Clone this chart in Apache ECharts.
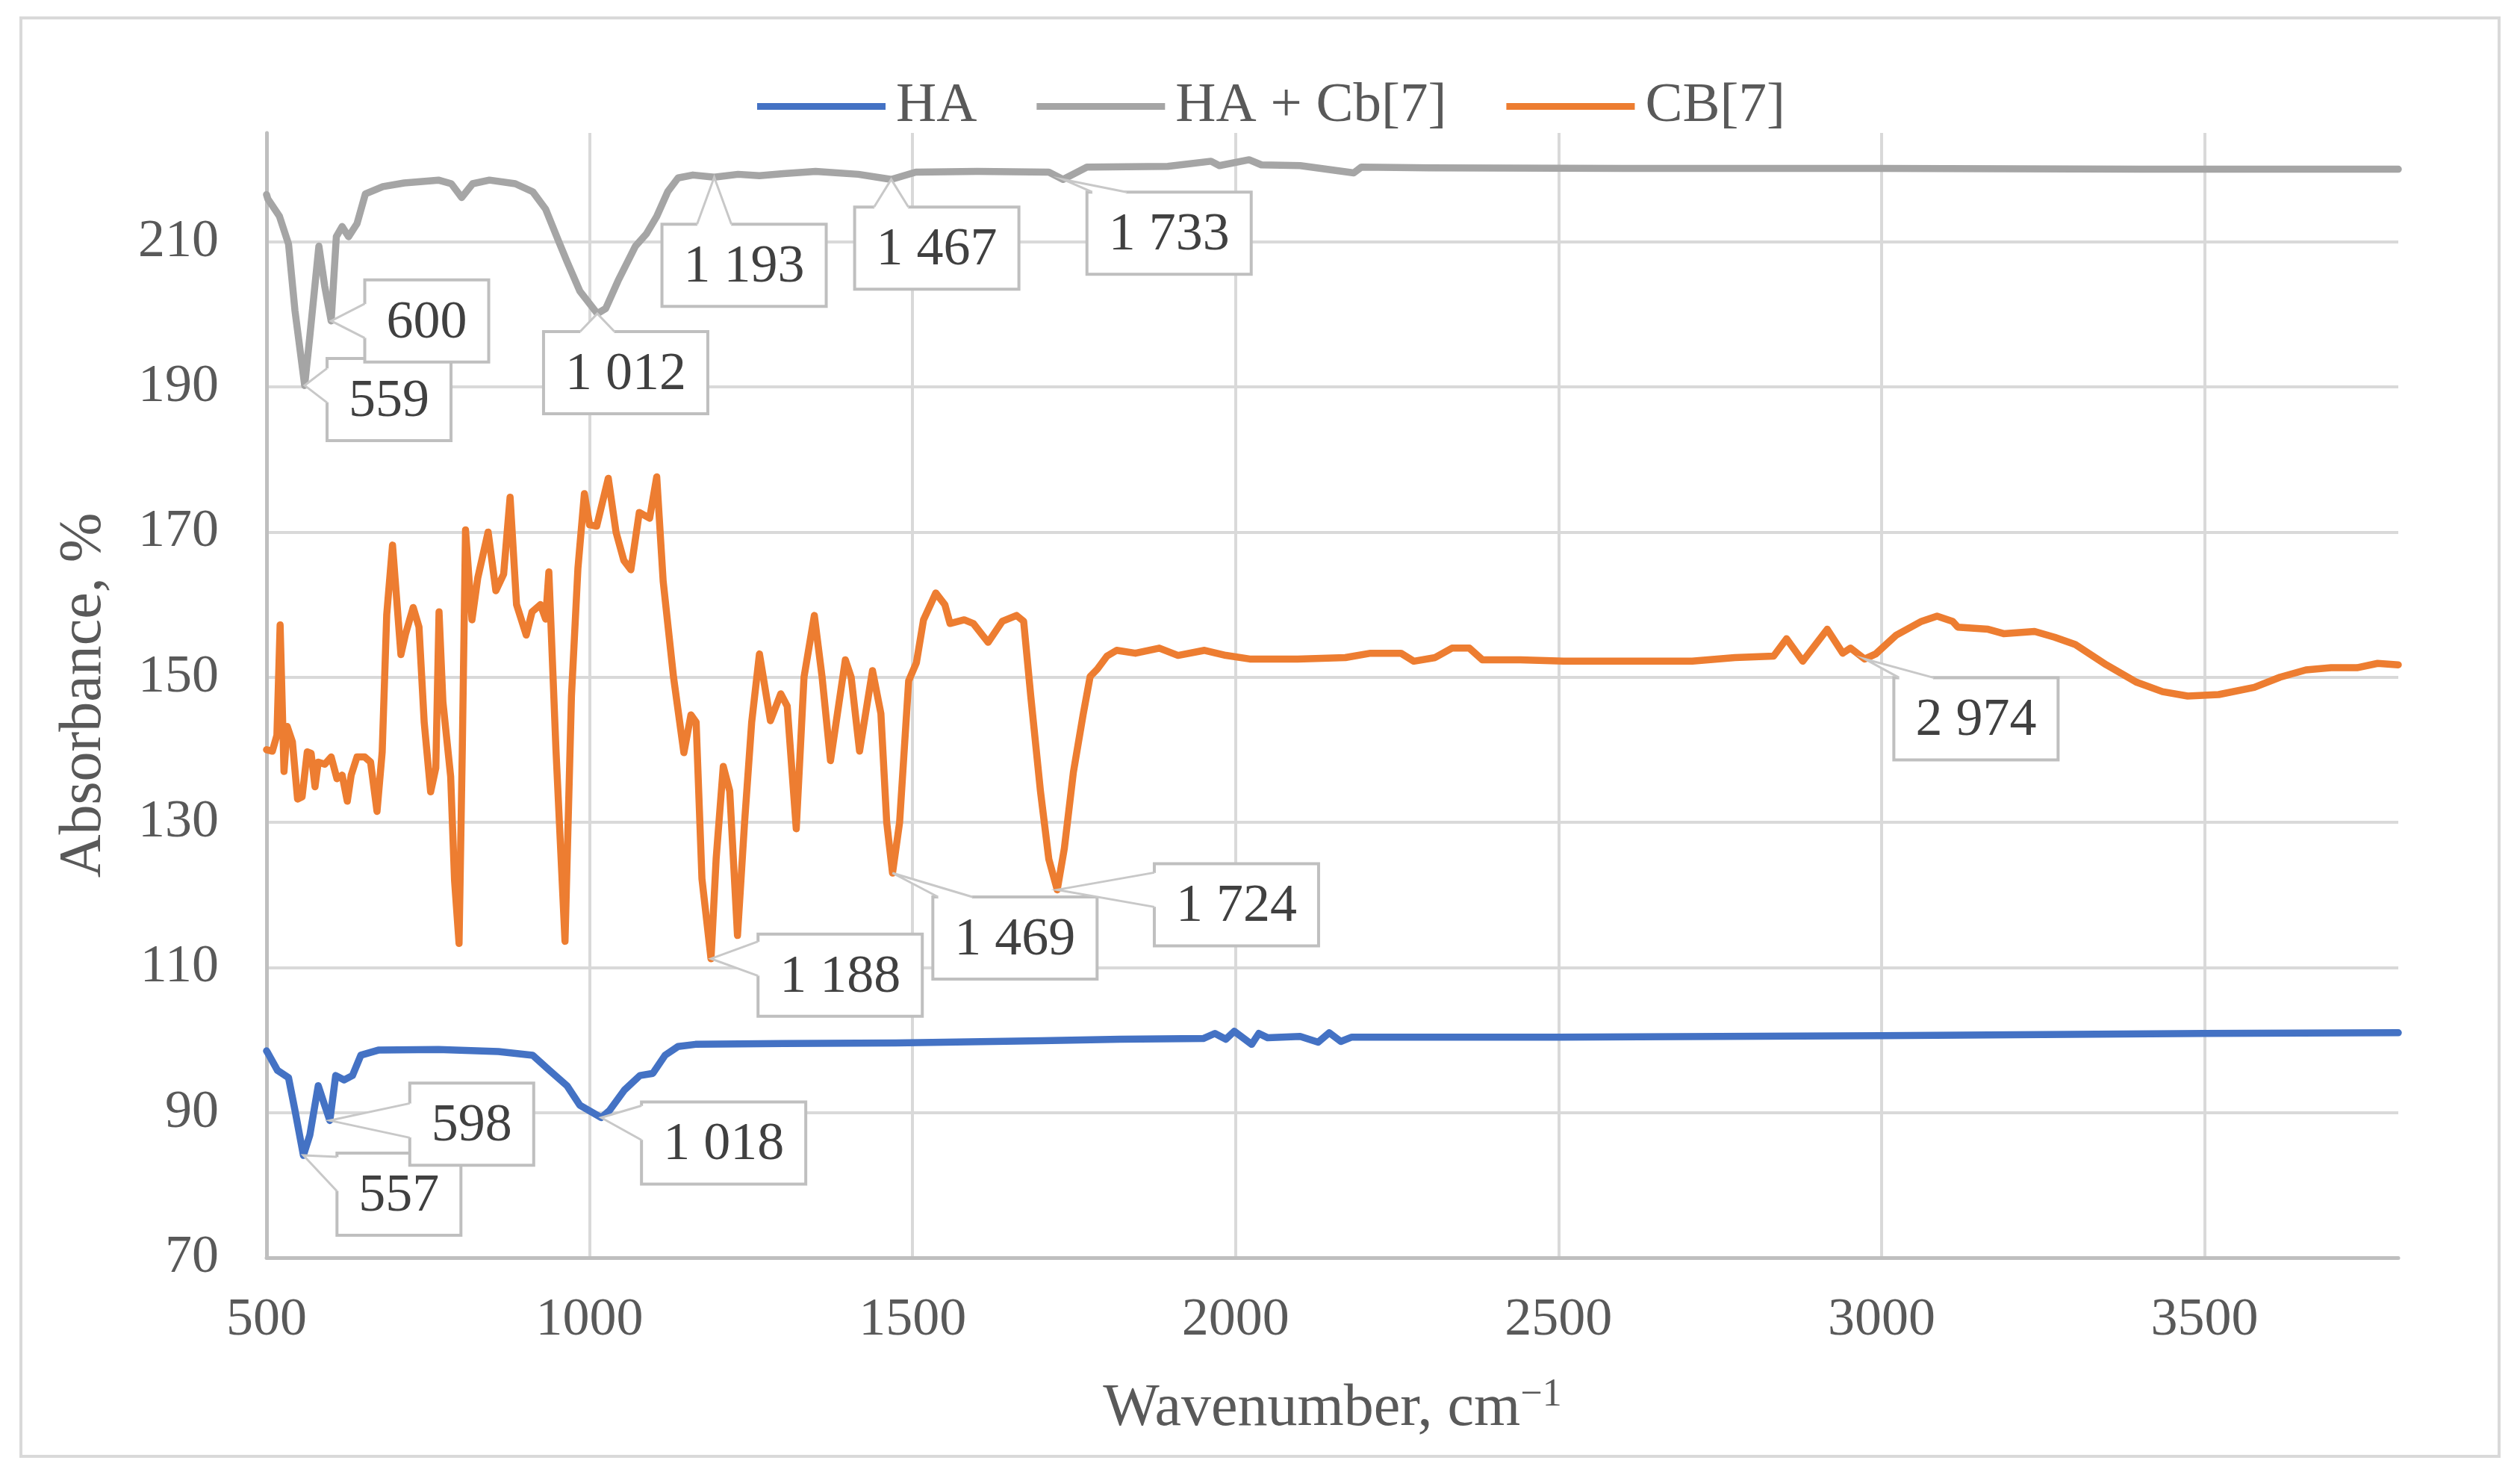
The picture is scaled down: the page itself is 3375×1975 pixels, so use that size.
<!DOCTYPE html>
<html>
<head>
<meta charset="utf-8">
<script src="https://cdn.jsdelivr.net/npm/echarts/dist/echarts.min.js"></script>
<style>
  html, body { margin: 0; padding: 0; background: #ffffff; }
  #chart { width: 3375px; height: 1975px; }
</style>
</head>
<body>
<div id="chart"></div>
<script>
// ---------------- DATA ----------------
const seriesNames = ['HA', 'HA + Cb[7]', 'CB[7]'];

const xTicks = [500, 1000, 1500, 2000, 2500, 3000, 3500];
const yTicks = [70, 90, 110, 130, 150, 170, 190, 210];

// [wavenumber, absorbance]
const haData = [
  [500, 98.5], [502, 98.2], [517, 95.8], [534, 94.8], [544, 90.3], [557, 84.1], [567, 86.9],
  [580, 93.7], [590, 91.0], [598, 88.9], [607, 95.1], [620, 94.5], [633, 95.1], [646, 97.9],
  [673, 98.6], [766, 98.7], [859, 98.4], [912, 97.9], [938, 95.8], [965, 93.7], [985, 91.0],
  [1018, 89.3], [1031, 90.3], [1054, 93.1], [1078, 95.1], [1098, 95.4], [1117, 97.9], [1137, 99.1],
  [1164, 99.4], [1300, 99.5], [1474, 99.6], [1700, 99.9], [1821, 100.1], [1950, 100.2], [1968, 100.9],
  [1985, 100.1], [1998, 101.2], [2010, 100.4], [2025, 99.4], [2036, 100.9], [2050, 100.3], [2100, 100.5],
  [2128, 99.7], [2145, 101.0], [2163, 99.8], [2180, 100.4], [2500, 100.4], [3000, 100.6], [3500, 100.9],
  [3800, 101.0]
];

const haCbData = [
  [500, 216.5], [502, 215.9], [520, 213.5], [534, 209.7], [544, 200.5], [559, 190.2], [567, 197.0],
  [581, 209.4], [590, 203.9], [600, 199.1], [608, 210.7], [617, 212.1], [627, 210.7], [640, 212.5],
  [653, 216.6], [680, 217.6], [713, 218.1], [766, 218.5], [786, 218.0], [802, 216.1], [819, 218.0],
  [845, 218.5], [885, 218.0], [912, 216.9], [932, 214.5], [952, 210.1], [965, 207.3], [985, 203.2],
  [1012, 200.1], [1025, 200.8], [1044, 204.6], [1071, 209.4], [1088, 211.1], [1104, 213.5], [1121, 216.9],
  [1137, 218.8], [1160, 219.2], [1193, 218.9], [1230, 219.3], [1263, 219.1], [1300, 219.4], [1350, 219.7],
  [1416, 219.3], [1467, 218.6], [1505, 219.6], [1600, 219.7], [1711, 219.6], [1733, 218.6], [1770, 220.3],
  [1895, 220.4], [1962, 221.1], [1975, 220.5], [2021, 221.3], [2040, 220.6], [2100, 220.5], [2183, 219.5],
  [2195, 220.3], [2300, 220.2], [2600, 220.1], [3000, 220.1], [3400, 220.0], [3800, 220.0]
];

const cbData = [
  [500, 140.0], [509, 139.8], [516, 142.0], [521, 157.2], [527, 137.0], [532, 143.2], [540, 141.1],
  [548, 133.2], [555, 133.5], [563, 139.7], [569, 139.5], [575, 134.9], [580, 138.3], [590, 138.0],
  [600, 139.0], [609, 136.0], [617, 136.5], [625, 132.9], [631, 136.5], [640, 139.0], [652, 139.0],
  [661, 138.3], [671, 131.5], [679, 139.7], [686, 158.6], [695, 168.2], [708, 153.1], [715, 155.9],
  [727, 159.6], [736, 156.9], [744, 143.8], [754, 134.2], [762, 137.5], [767, 159.0], [773, 146.6],
  [785, 136.3], [791, 122.0], [798, 113.3], [803, 140.0], [808, 170.3], [818, 157.9], [827, 163.7],
  [843, 170.0], [855, 161.9], [867, 164.2], [877, 174.8], [887, 160.0], [902, 155.8], [911, 159.0],
  [924, 160.0], [932, 158.0], [937, 164.5], [948, 140.0], [962, 113.6], [972, 147.4], [982, 165.0],
  [992, 175.3], [1000, 171.0], [1011, 170.8], [1029, 177.4], [1041, 170.0], [1053, 166.1], [1064, 164.8],
  [1077, 172.7], [1093, 171.9], [1104, 177.6], [1114, 163.2], [1130, 150.0], [1146, 139.6], [1157, 144.8],
  [1165, 143.8], [1174, 122.2], [1188, 111.2], [1196, 125.0], [1207, 137.7], [1217, 134.3], [1229, 114.4],
  [1240, 130.0], [1251, 143.8], [1263, 153.2], [1280, 144.0], [1296, 147.7], [1306, 146.0], [1320, 129.1],
  [1332, 150.0], [1348, 158.5], [1360, 150.0], [1373, 138.5], [1396, 152.4], [1405, 150.0], [1418, 139.8],
  [1438, 150.9], [1451, 145.0], [1460, 130.0], [1469, 123.0], [1480, 130.0], [1494, 149.5], [1506, 152.0],
  [1517, 157.9], [1536, 161.6], [1550, 160.0], [1558, 157.4], [1580, 157.9], [1594, 157.4], [1617, 154.8],
  [1639, 157.7], [1661, 158.5], [1672, 157.7], [1683, 147.4], [1698, 134.3], [1711, 124.9], [1724, 120.7],
  [1735, 126.4], [1749, 136.9], [1764, 144.8], [1775, 150.1], [1786, 151.1], [1801, 152.9], [1816, 153.7],
  [1845, 153.3], [1882, 154.0], [1911, 153.0], [1952, 153.7], [1985, 153.0], [2022, 152.5], [2096, 152.5],
  [2170, 152.7], [2209, 153.3], [2256, 153.3], [2276, 152.2], [2309, 152.7], [2335, 154.0], [2362, 154.0],
  [2382, 152.4], [2441, 152.4], [2508, 152.2], [2600, 152.2], [2707, 152.2], [2773, 152.7], [2833, 152.9],
  [2853, 155.3], [2878, 152.2], [2916, 156.6], [2940, 153.3], [2952, 154.0], [2974, 152.5], [2991, 153.2],
  [3023, 155.8], [3062, 157.7], [3086, 158.4], [3110, 157.7], [3118, 156.9], [3165, 156.6], [3189, 156.0],
  [3237, 156.3], [3268, 155.5], [3300, 154.5], [3348, 151.7], [3395, 149.3], [3435, 148.0], [3474, 147.4],
  [3522, 147.6], [3577, 148.6], [3617, 150.0], [3657, 151.0], [3696, 151.3], [3736, 151.3], [3768, 151.9],
  [3800, 151.7]
];

// Annotated peaks [wavenumber, absorbance]
const haPeaks = [[557, 84.1], [598, 88.9], [1018, 89.3]];
const haCbPeaks = [[559, 190.2], [600, 199.1], [1012, 200.1], [1193, 218.9], [1467, 218.6], [1733, 218.6]];
const cbPeaks = [[1188, 111.2], [1469, 123.0], [1724, 120.7], [2974, 152.5]];

// ---------------- LAYOUT (callout box offsets in px from the peak, side of wedge) ----------------
const haPeakLayout = [
  { dx: 128, dy: 52, side: 'left' },
  { dx: 190, dy: 5, side: 'left' },
  { dx: 164, dy: 34, side: 'left' }
];
const haCbPeakLayout = [
  { dx: 113, dy: 19, side: 'left' },
  { dx: 128, dy: 0, side: 'left' },
  { dx: 38, dy: 79, side: 'top' },
  { dx: 40, dy: 118, side: 'top' },
  { dx: 61, dy: 92, side: 'top' },
  { dx: 142, dy: 72, side: 'top' }
];
const cbPeakLayout = [
  { dx: 173, dy: 22, side: 'left' },
  { dx: 164, dy: 87, side: 'top' },
  { dx: 240, dy: 20, side: 'left' },
  { dx: 149, dy: 80, side: 'top' }
];

// ---------------- STYLE ----------------
const FONT = '"Liberation Serif", "Times New Roman", serif';
const colors = { ha: '#4472C4', haCb: '#A5A5A5', cb: '#ED7D31' };
const textGray = '#595959';

const measureCtx = document.createElement('canvas').getContext('2d');
const LABEL_FONT_SIZE = 72;
measureCtx.font = LABEL_FONT_SIZE + 'px ' + FONT;

function peakText(n) {
  if (n >= 1000) {
    return Math.floor(n / 1000) + ' ' + String(n % 1000).padStart(3, '0');
  }
  return String(n);
}

function clamp(v, a, b) { return Math.max(a, Math.min(b, v)); }

function makeCalloutRenderer(layoutArr) {
  return function (params, api) {
    const wn = api.value(0);
    const val = api.value(1);
    const p = api.coord([wn, val]);
    const L = layoutArr[params.dataIndex];
    const text = peakText(wn);
    const tw = measureCtx.measureText(text).width;
    const w = tw + 58;
    const h = 110;
    const cx = p[0] + L.dx;
    const cy = p[1] + L.dy;
    const x0 = cx - w / 2;
    const y0 = cy - h / 2;
    const half = 23;
    let b1, b2, c1, c2;
    if (L.side === 'top') {
      const bx = clamp(p[0], x0 + 30, x0 + w - 30);
      b1 = [bx - half, y0]; b2 = [bx + half, y0];
      c1 = [bx - half + 1, y0 + 4]; c2 = [bx + half - 1, y0 + 4];
    } else {
      const by = clamp(p[1], y0 + 28, y0 + h - 28);
      b1 = [x0, by - half]; b2 = [x0, by + half];
      c1 = [x0 + 4, by - half + 1]; c2 = [x0 + 4, by + half - 1];
    }
    return {
      type: 'group',
      children: [
        {
          type: 'rect',
          shape: { x: x0, y: y0, width: w, height: h },
          style: { fill: '#ffffff', stroke: '#bfbfbf', lineWidth: 4 }
        },
        {
          type: 'polygon',
          shape: { points: [p, b1, c1, c2, b2] },
          style: { fill: '#ffffff', stroke: null }
        },
        {
          type: 'polyline',
          shape: { points: [b1, p, b2] },
          style: { fill: null, stroke: '#c8c8c8', lineWidth: 3 }
        },
        {
          type: 'text',
          x: cx,
          y: cy + 3,
          style: {
            text: text,
            fill: '#404040',
            font: LABEL_FONT_SIZE + 'px ' + FONT,
            align: 'center',
            verticalAlign: 'middle'
          }
        }
      ]
    };
  };
}

function lineSeries(name, data, color) {
  return {
    name: name,
    type: 'line',
    data: data,
    showSymbol: false,
    symbol: 'none',
    smooth: false,
    animation: false,
    emphasis: { disabled: true },
    lineStyle: { color: color, width: 9.5, cap: 'round', join: 'round' },
    itemStyle: { color: color },
    z: 3
  };
}

function calloutSeries(data, layoutArr) {
  return {
    type: 'custom',
    coordinateSystem: 'cartesian2d',
    data: data,
    encode: { x: 0, y: 1 },
    renderItem: makeCalloutRenderer(layoutArr),
    silent: true,
    clip: false,
    animation: false,
    z: 10
  };
}

const chart = echarts.init(document.getElementById('chart'), null, { renderer: 'canvas', width: 3375, height: 1975 });

chart.setOption({
  backgroundColor: '#ffffff',
  animation: false,
  textStyle: { fontFamily: FONT },
  graphic: [
    {
      type: 'rect',
      shape: { x: 28, y: 24, width: 3319, height: 1926 },
      style: { fill: null, stroke: '#d9d9d9', lineWidth: 4 },
      silent: true,
      z: -10
    }
  ],
  legend: {
    data: seriesNames,
    left: 1009,
    top: 100,
    icon: 'rect',
    itemWidth: 172,
    itemHeight: 9,
    itemGap: 80,
    textStyle: { fontSize: 75, color: textGray, fontFamily: FONT, padding: [0, 0, 0, 9] },
    selectedMode: false
  },
  grid: {
    left: 357,
    right: 163,
    top: 178,
    bottom: 291,
    containLabel: false,
    outerBoundsMode: 'none'
  },
  xAxis: {
    type: 'value',
    min: xTicks[0],
    max: 3800,
    interval: xTicks[1] - xTicks[0],
    name: 'Wavenumber, cm{sup|−1}',
    nameLocation: 'middle',
    nameGap: 158,
    nameTextStyle: {
      fontSize: 80,
      color: textGray,
      fontFamily: FONT,
      lineHeight: 90,
      rich: {
        sup: { fontSize: 52, color: textGray, fontFamily: FONT, verticalAlign: 'top', lineHeight: 90 }
      }
    },
    axisLine: { show: true, onZero: false, lineStyle: { color: '#bfbfbf', width: 5 } },
    axisTick: { show: false },
    axisLabel: {
      show: true,
      fontSize: 72,
      color: textGray,
      fontFamily: FONT,
      margin: 48,
      showMinLabel: true,
      showMaxLabel: false,
      formatter: function (v) { return xTicks.indexOf(v) >= 0 ? String(v) : ''; }
    },
    splitLine: { show: true, showMinLine: false, showMaxLine: false, lineStyle: { color: '#d9d9d9', width: 4 } }
  },
  yAxis: {
    type: 'value',
    min: yTicks[0],
    max: 225,
    interval: yTicks[1] - yTicks[0],
    name: 'Absorbance, %',
    nameLocation: 'middle',
    nameGap: 204,
    nameTextStyle: { fontSize: 80, color: textGray, fontFamily: FONT },
    axisLine: { show: true, onZero: false, lineStyle: { color: '#bfbfbf', width: 5 } },
    axisTick: { show: false },
    axisLabel: {
      show: true,
      fontSize: 72,
      color: textGray,
      fontFamily: FONT,
      margin: 64,
      showMinLabel: true,
      showMaxLabel: false,
      formatter: function (v) { return yTicks.indexOf(v) >= 0 ? String(v) : ''; }
    },
    splitLine: { show: true, showMinLine: false, showMaxLine: false, lineStyle: { color: '#d9d9d9', width: 4 } }
  },
  series: [
    lineSeries(seriesNames[0], haData, colors.ha),
    lineSeries(seriesNames[1], haCbData, colors.haCb),
    lineSeries(seriesNames[2], cbData, colors.cb),
    calloutSeries(haPeaks, haPeakLayout),
    calloutSeries(haCbPeaks, haCbPeakLayout),
    calloutSeries(cbPeaks, cbPeakLayout)
  ]
});
</script>
</body>
</html>
